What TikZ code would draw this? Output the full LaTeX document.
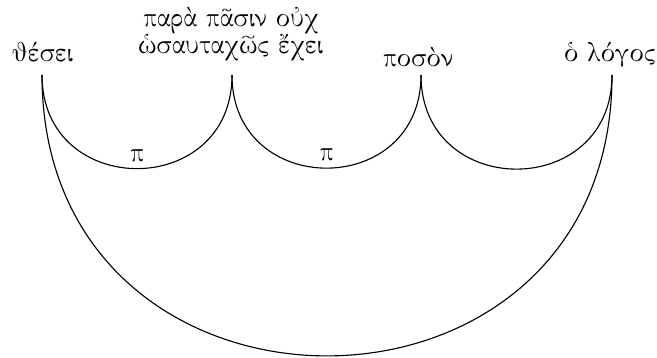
\documentclass[tikz,border=0pt]{standalone}
\usepackage[LGR,TU]{fontenc}
\newcommand\gr[1]{{\fontencoding{LGR}\fontfamily{cmr}\selectfont #1}}
\newcommand\Circ{\char126 }
\tikzset{
  lbl/.style={inner sep=0pt, anchor=base, font=\fontsize{10.5pt}{10.8pt}\selectfont},
  arc/.style={line width=0.45pt, out=-90, in=-90, looseness=1.685},
  pilbl/.style={above=2.8pt, inner sep=0pt, font=\fontsize{10.5pt}{10.8pt}\selectfont}
}
\begin{document}
\begin{tikzpicture}[x=0.4pt, y=-0.4pt]
\useasboundingbox (0,0) rectangle (657,358);
\node[lbl] (n1) at (43,61.5) {\gr{j'esei}};
\node[lbl, align=center] (n2) at (231,54) {\gr{par`a p\Circ asin o>uq}\\\gr{<wsautaq\Circ wc >'eqei}};
\node[lbl] (n3) at (418,66.5) {\gr{pos`on}};
\node[lbl] (n4) at (610,62) {\gr{<o l'ogoc}};
\coordinate (c1) at (42,75);
\coordinate (c2) at (232,75);
\coordinate (c3) at (421,75);
\coordinate (c4) at (612,75);
\draw[arc] (c1) to node[pilbl] {\gr{p}} (c2);
\draw[arc] (c2) to node[pilbl] {\gr{p}} (c3);
\draw[arc] (c3) to (c4);
\draw[arc] (c1) to (c4);
\end{tikzpicture}
\end{document}
